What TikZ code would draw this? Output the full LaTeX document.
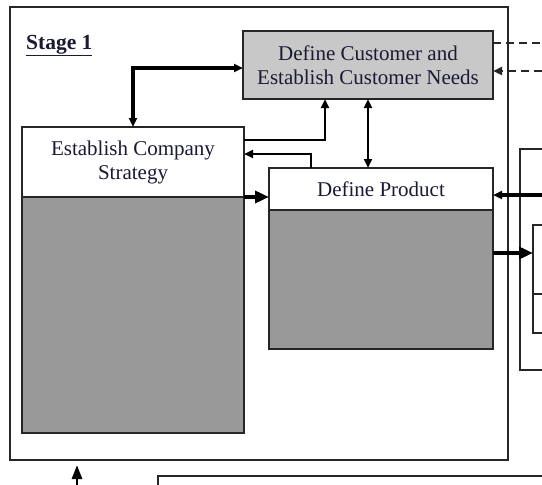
\documentclass[tikz,border=0pt]{standalone}
\usepackage{fontspec}
\setmainfont{Liberation Serif}
\usetikzlibrary{arrows.meta}
\definecolor{lightfill}{HTML}{C8C8C8}
\definecolor{darkfill}{HTML}{999999}
\definecolor{border}{HTML}{262626}
\definecolor{txt}{HTML}{1A1A34}
\tikzset{
  smalltip/.tip={Triangle[length=9pt,width=8pt]},
  bigtip/.tip={Triangle[length=14pt,width=12pt]},
  box/.style={draw=border, line width=2pt, rectangle, inner sep=0pt, outer sep=0pt,
    text=txt, align=center, font=\fontsize{21}{24}\selectfont},
  conn/.style={line width=2.8pt, draw=black},
  heavy/.style={line width=4.5pt, draw=black},
  dashconn/.style={line width=2.5pt, draw=black!85, dash pattern=on 8pt off 5pt}
}
\begin{document}
\begin{tikzpicture}[x=1pt,y=-1pt]
\clip (0,0) rectangle (542,485);
\fill[white] (0,0) rectangle (542,485);
% Stage 1 frame
\node[box, minimum width=498pt, minimum height=453pt] (stage) at (259,233.5) {};
\node[anchor=base west, inner sep=0pt, text=txt, font=\fontsize{21.5}{24}\selectfont\bfseries] (stagelbl) at (26,49) {\underline{Stage 1}};
% boxes
\node[box, fill=lightfill, minimum width=250pt, minimum height=68pt] (dc) at (368,65)
  {Define Customer and\\Establish Customer Needs};
\node[box, fill=white, minimum width=222pt, minimum height=70pt] (ecs) at (133,162)
  {Establish Company\\Strategy};
\node[box, fill=darkfill, minimum width=222pt, minimum height=236pt] (ecsb) at (133,315) {};
\node[box, fill=white, minimum width=224pt, minimum height=42pt] (dp) at (381,189)
  {\raisebox{-3pt}{Define Product}};
\node[box, fill=darkfill, minimum width=224pt, minimum height=139pt] (dpb) at (381,279.5) {};
% right-hand boxes (cut off)
\node[box, fill=white, minimum width=100pt, minimum height=221pt] (rbox) at (570,259.5) {};
\node[box, fill=white, minimum width=100pt, minimum height=69pt] (ibt) at (583,259.5) {};
\node[box, fill=white, minimum width=100pt, minimum height=39pt] (ibb) at (583,313.5) {};
% bottom box (cut off)
\node[box, fill=white, minimum width=484pt, minimum height=88pt] (bbox) at (400,520) {};
% free ends
\coordinate (dout) at (542,43);
\coordinate (din) at (542,71);
\coordinate (pin) at (542,195);
\coordinate (bin) at (77,486);
% connectors
\draw[heavy, line width=3.8pt, arrows={smalltip-smalltip}] (ecs.north) |- ([yshift=-3pt]dc.west);
\draw[conn, -smalltip] ([yshift=-13pt]ecs.north east) -| ([xshift=82pt]dc.south west);
\draw[conn, -smalltip] ([xshift=42pt]dp.north west) |- ([yshift=-27pt]ecs.north east);
\draw[conn, arrows={smalltip-smalltip}] (dc.south) -- (dc.south |- dp.north);
\draw[heavy, -bigtip] (ecs.south east) -- (dp.west |- ecs.south east);
\draw[dashconn] ([yshift=22pt]dc.east) -- (dout);
\draw[dashconn, -smalltip] (din) -- ([yshift=-6pt]dc.east);
\draw[conn, line width=3.6pt, -smalltip] (pin) -- (dp.east |- pin);
\draw[heavy, -bigtip] ([yshift=26.5pt]dpb.east) -- ([yshift=26.5pt]dpb.east -| ibt.west);
\draw[conn, -{Triangle[length=14pt,width=10pt]}] (bin) -- ([yshift=-5pt]stage.south -| bin);
\end{tikzpicture}
\end{document}
